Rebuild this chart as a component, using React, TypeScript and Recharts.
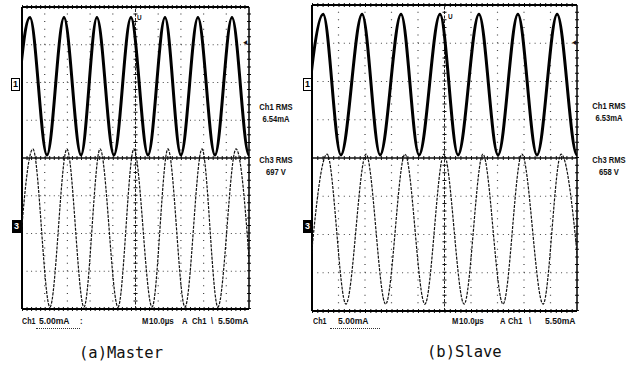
import React from 'react';
import { LineChart, Line, XAxis, YAxis, ReferenceLine } from 'recharts';

// time axis: microseconds (10 µs/div, 10 div); vertical axis: screen divisions (-4..4)
const xTicks = [0, 10, 20, 30, 40, 50, 60, 70, 80, 90, 100];
const yTicks = [-4, -3, -2, -1, 0, 1, 2, 3, 4];

// (a) Master — Ch1 current (thick trace)
const masterCh1 = [
  { t: -4.0, v: 0.08 }, { t: 3.5, v: 3.72 }, { t: 11.0, v: 0.08 }, { t: 18.5, v: 3.72 },
  { t: 26.0, v: 0.08 }, { t: 33.0, v: 3.72 }, { t: 40.5, v: 0.08 }, { t: 48.0, v: 3.72 },
  { t: 55.5, v: 0.08 }, { t: 63.0, v: 3.72 }, { t: 70.0, v: 0.08 }, { t: 77.5, v: 3.72 },
  { t: 85.0, v: 0.08 }, { t: 92.5, v: 3.72 }, { t: 100.0, v: 0.08 }, { t: 107.5, v: 3.72 },
];
// (a) Master — Ch3 voltage (thin dotted trace)
const masterCh3 = [
  { t: -2.7, v: -3.95 }, { t: 4.8, v: 0.24 }, { t: 12.3, v: -3.95 }, { t: 19.8, v: 0.24 },
  { t: 27.3, v: -3.95 }, { t: 34.4, v: 0.24 }, { t: 42.3, v: -3.95 }, { t: 49.3, v: 0.24 },
  { t: 57.3, v: -3.95 }, { t: 64.3, v: 0.24 }, { t: 71.8, v: -3.95 }, { t: 79.3, v: 0.24 },
  { t: 86.3, v: -3.95 }, { t: 94.3, v: 0.24 }, { t: 101.5, v: -3.95 },
];
// (b) Slave — Ch1 current
const slaveCh1 = [
  { t: -3.4, v: 0.08 }, { t: 4.2, v: 3.76 }, { t: 10.9, v: 0.08 }, { t: 18.9, v: 3.76 },
  { t: 25.7, v: 0.08 }, { t: 33.6, v: 3.76 }, { t: 40.4, v: 0.08 }, { t: 48.3, v: 3.76 },
  { t: 55.1, v: 0.08 }, { t: 63.0, v: 3.76 }, { t: 70.2, v: 0.08 }, { t: 77.7, v: 3.76 },
  { t: 84.9, v: 0.08 }, { t: 92.5, v: 3.76 }, { t: 100.0, v: 0.08 }, { t: 107.3, v: 3.76 },
];
// (b) Slave — Ch3 voltage
const slaveCh3 = [
  { t: -1.9, v: -3.82 }, { t: 5.7, v: 0.1 }, { t: 12.8, v: -3.82 }, { t: 20.4, v: 0.1 },
  { t: 27.8, v: -3.82 }, { t: 35.1, v: 0.1 }, { t: 42.6, v: -3.82 }, { t: 49.8, v: 0.1 },
  { t: 57.4, v: -3.82 }, { t: 64.5, v: 0.1 }, { t: 72.1, v: -3.82 }, { t: 79.2, v: 0.1 },
  { t: 87.2, v: -3.82 }, { t: 94.0, v: 0.1 }, { t: 101.8, v: -3.82 },
];

const masterRms = ['Ch1 RMS', '6.54mA', 'Ch3 RMS', '697 V'];
const slaveRms = ['Ch1 RMS', '6.53mA', 'Ch3 RMS', '658 V'];
const scaleLabel = ['Ch1', '5.00mA'];
const timeLabel = ['M', '10.0µs', 'A', 'Ch1', '\\', '5.50mA'];
const captions = ['(a)Master', '(b)Slave'];

const sFont = '"Liberation Sans", Arial, sans-serif';

const Txt = ({ x, y, children, size = 9.5, center = false, bold = true, sx = 0.8 }: any) => (
  <div
    style={{
      position: 'absolute',
      left: center ? x - 40 : x,
      top: y - size * 0.6,
      width: center ? 80 : undefined,
      textAlign: center ? 'center' : 'left',
      fontFamily: sFont,
      fontWeight: bold ? 700 : 400,
      fontSize: size,
      lineHeight: `${size * 1.2}px`,
      whiteSpace: 'nowrap',
      color: '#111',
      transform: `scaleX(${sx})`,
      transformOrigin: center ? '50% 50%' : '0 50%',
    }}
  >
    {children}
  </div>
);

const Panel = ({ left, width, height, margin, ch1, ch3 }: any) => {
  const plotW = width - margin.left - margin.right;
  const plotH = height - margin.top - margin.bottom;
  const mx = plotW / 50;
  const my = plotH / 40;
  return (
    <div style={{ position: 'absolute', left, top: 0 }}>
      <LineChart width={width} height={height} margin={margin}>
        <XAxis type="number" dataKey="t" domain={[0, 100]} ticks={xTicks} allowDataOverflow hide />
        <YAxis type="number" dataKey="v" domain={[-4, 4]} ticks={yTicks} allowDataOverflow hide />
        {xTicks.slice(1, -1).filter((t) => t !== 50).map((t) => (
          <ReferenceLine key={'gx' + t} x={t} stroke="#444" strokeWidth={1.2} strokeDasharray={`1 ${my - 1}`} />
        ))}
        {yTicks.slice(1, -1).filter((v) => v !== 0).map((v) => (
          <ReferenceLine key={'gy' + v} y={v} stroke="#444" strokeWidth={1.2} strokeDasharray={`1 ${mx - 1}`} />
        ))}
        <ReferenceLine y={0} stroke="#111" strokeWidth={1.3} />
        <ReferenceLine y={0} stroke="#111" strokeWidth={4} strokeDasharray={`1 ${mx - 1}`} />
        <ReferenceLine x={50} stroke="#222" strokeWidth={1} strokeDasharray="3 1.5" />
        <ReferenceLine x={50} stroke="#111" strokeWidth={4} strokeDasharray={`1 ${my - 1}`} />
        <ReferenceLine y={4} stroke="#111" strokeWidth={4} strokeDasharray={`1 ${mx - 1}`} />
        <ReferenceLine y={-4} stroke="#111" strokeWidth={4} strokeDasharray={`1 ${mx - 1}`} />
        <ReferenceLine x={100} stroke="#111" strokeWidth={4} strokeDasharray={`1 ${my - 1}`} />
        <ReferenceLine x={0} stroke="#000" strokeWidth={2} />
        <ReferenceLine x={100} stroke="#000" strokeWidth={1.5} />
        <ReferenceLine y={4} stroke="#000" strokeWidth={2} />
        <ReferenceLine y={-4} stroke="#000" strokeWidth={2} />
        <Line data={ch3} dataKey="v" type="monotone" stroke="#111" strokeWidth={1.2} strokeDasharray="3 1.2" dot={false} activeDot={false} isAnimationActive={false} />
        <Line data={ch1} dataKey="v" type="monotone" stroke="#000" strokeWidth={3} dot={false} activeDot={false} isAnimationActive={false} />
      </LineChart>
    </div>
  );
};

const Marker = ({ x, y, label, filled }: any) => (
  <div
    style={{
      position: 'absolute',
      left: x,
      top: y,
      width: 7,
      height: 11,
      border: '1px solid #000',
      background: filled ? '#000' : '#fff',
      color: filled ? '#fff' : '#000',
      fontFamily: sFont,
      fontWeight: 700,
      fontSize: 9,
      lineHeight: '11px',
      textAlign: 'center',
    }}
  >
    {label}
  </div>
);

export default function App() {
  return (
    <div style={{ position: 'absolute', left: 0, top: 0, width: 640, height: 372, background: '#fff', overflow: 'hidden' }}>
      <Panel left={0} width={260} height={320} margin={{ top: 7, left: 22, right: 11, bottom: 11 }} ch1={masterCh1} ch3={masterCh3} />
      <Panel left={300} width={290} height={320} margin={{ top: 5, left: 12, right: 13, bottom: 9 }} ch1={slaveCh1} ch3={slaveCh3} />

      <Marker x={11} y={78} label="1" />
      <Marker x={12} y={220} label="3" filled />
      <Marker x={303} y={78} label="1" />
      <Marker x={303} y={220} label="3" filled />

      <Txt x={137} y={18} size={8}>U</Txt>
      <Txt x={448} y={17} size={8}>U</Txt>
      <Txt x={242} y={43} size={8}>◄</Txt>
      <Txt x={571} y={43} size={8}>◄</Txt>

      <Txt x={276} y={107} center>{masterRms[0]}</Txt>
      <Txt x={276} y={119} center>{masterRms[1]}</Txt>
      <Txt x={276} y={160} center>{masterRms[2]}</Txt>
      <Txt x={276} y={172} center>{masterRms[3]}</Txt>
      <Txt x={609} y={106} center>{slaveRms[0]}</Txt>
      <Txt x={609} y={118} center>{slaveRms[1]}</Txt>
      <Txt x={609} y={160} center>{slaveRms[2]}</Txt>
      <Txt x={609} y={172} center>{slaveRms[3]}</Txt>

      <Txt x={22} y={321} sx={0.75}>{scaleLabel[0]}</Txt>
      <Txt x={39} y={321} sx={0.9}>{scaleLabel[1]}</Txt>
      <Txt x={80} y={321}>:</Txt>
      <div style={{ position: 'absolute', left: 36, top: 328, width: 44, borderTop: '1px dotted #333' }} />
      <Txt x={142} y={321}>{timeLabel[0]}</Txt>
      <Txt x={149} y={321} sx={0.85}>{timeLabel[1]}</Txt>
      <Txt x={182} y={321}>{timeLabel[2]}</Txt>
      <Txt x={192} y={321}>{timeLabel[3]}</Txt>
      <Txt x={211} y={321}>{timeLabel[4]}</Txt>
      <Txt x={218} y={321} sx={0.9}>{timeLabel[5]}</Txt>

      <Txt x={313} y={321} sx={0.75}>{scaleLabel[0]}</Txt>
      <Txt x={338} y={321} sx={0.9}>{scaleLabel[1]}</Txt>
      <div style={{ position: 'absolute', left: 330, top: 328, width: 50, borderTop: '1px dotted #333' }} />
      <Txt x={452} y={321}>{timeLabel[0]}</Txt>
      <Txt x={459} y={321} sx={0.85}>{timeLabel[1]}</Txt>
      <Txt x={500} y={321}>{timeLabel[2]}</Txt>
      <Txt x={508} y={321}>{timeLabel[3]}</Txt>
      <Txt x={529} y={321}>{timeLabel[4]}</Txt>
      <Txt x={545} y={321} sx={0.9}>{timeLabel[5]}</Txt>

      <div style={{ position: 'absolute', left: 79, top: 343, fontFamily: '"DejaVu Sans Mono", monospace', fontSize: 15.5, lineHeight: '20px', color: '#111', whiteSpace: 'nowrap' }}>{captions[0]}</div>
      <div style={{ position: 'absolute', left: 427, top: 342, fontFamily: '"DejaVu Sans Mono", monospace', fontSize: 15.5, lineHeight: '20px', color: '#111', whiteSpace: 'nowrap' }}>{captions[1]}</div>
    </div>
  );
}
